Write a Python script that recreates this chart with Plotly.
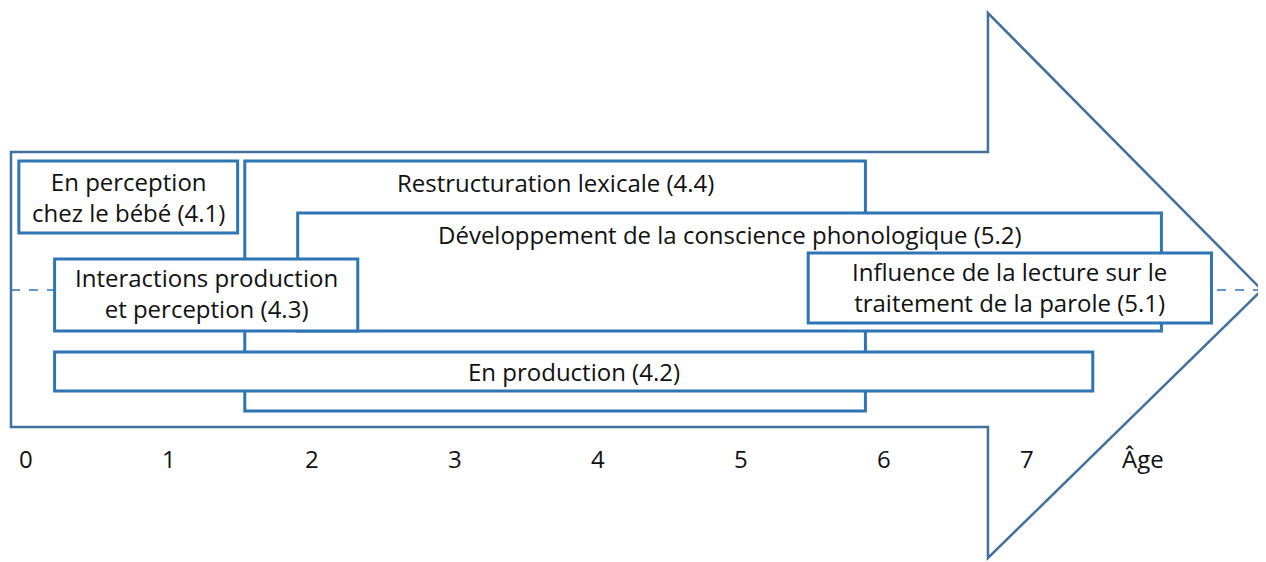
import plotly.graph_objects as go

# ---- data (ages in years) ----
labels = [
    "Restructuration lexicale (4.4)",
    "Développement de la conscience phonologique (5.2)",
    "En perception<br>chez le bébé (4.1)",
    "Interactions production<br>et perception (4.3)",
    "Influence de la lecture sur le<br>traitement de la parole (5.1)",
    "En production (4.2)",
]
age_start = [1.53, 1.90, -0.05, 0.20, 5.47, 0.20]
age_end = [5.87, 7.94, 1.48, 2.32, 8.29, 7.46]

tick_vals = [0, 1, 2, 3, 4, 5, 6, 7, 7.81]
tick_text = ["0", "1", "2", "3", "4", "5", "6", "7", "Âge"]

# ---- layout (vertical rows in pixel-like units, top = 0) ----
box_top = [161, 213, 161, 259, 253, 352]
box_bot = [411, 331, 233, 331, 323, 391]
text_y = [182, 234, 197, 293, 287, 371]

arrow_left, arrow_neck, arrow_tip = -0.105, 6.727, 8.643
body_top, body_bot, head_top, head_bot, mid_y = 152, 427, 13, 558, 290

BOX_COLOR = "#2E75B6"
ARROW_COLOR = "#41719C"
FONT = "Open Sans"
PAGE_OFFSET = 8  # default page margin of the html body

fig = go.Figure()
shapes = []

shapes.append(dict(type="line", xref="x", yref="y",
                   x0=arrow_left, x1=arrow_tip, y0=mid_y, y1=mid_y,
                   line=dict(color=BOX_COLOR, width=1.5, dash="dash")))

path = (f"M {arrow_left},{body_top} L {arrow_neck},{body_top} L {arrow_neck},{head_top} "
        f"L {arrow_tip},{mid_y} L {arrow_neck},{head_bot} L {arrow_neck},{body_bot} "
        f"L {arrow_left},{body_bot} Z")
shapes.append(dict(type="path", xref="x", yref="y", path=path,
                   line=dict(color=ARROW_COLOR, width=2.5), fillcolor="rgba(0,0,0,0)"))

annotations = []
for lab, xs, xe, yt, yb, ty in zip(labels, age_start, age_end, box_top, box_bot, text_y):
    shapes.append(dict(type="rect", xref="x", yref="y", x0=xs, x1=xe, y0=yt, y1=yb,
                       line=dict(color=BOX_COLOR, width=3), fillcolor="white"))
    annotations.append(dict(x=(xs + xe) / 2, y=ty, xref="x", yref="y", text=lab,
                            showarrow=False, xanchor="center", yanchor="middle",
                            font=dict(family=FONT, size=24, color="#111111")))

for tv, tt in zip(tick_vals, tick_text):
    annotations.append(dict(x=tv, y=458, xref="x", yref="y", text=tt, showarrow=False,
                            xanchor="center", yanchor="middle",
                            font=dict(family=FONT, size=24, color="#111111")))

# invisible trace to establish axes
fig.add_trace(go.Scatter(x=[arrow_left, arrow_tip], y=[0, 562], mode="markers",
                         marker=dict(opacity=0), hoverinfo="skip", showlegend=False))

W, H = 1266, 562
px_per_year = 143
x_origin = 26 - PAGE_OFFSET
fig.update_layout(
    width=W, height=H,
    margin=dict(l=0, r=0, t=0, b=0),
    paper_bgcolor="white", plot_bgcolor="white",
    shapes=shapes, annotations=annotations,
    xaxis=dict(range=[-x_origin / px_per_year, (W - x_origin) / px_per_year],
               visible=False, fixedrange=True),
    yaxis=dict(range=[H + PAGE_OFFSET, PAGE_OFFSET], visible=False, fixedrange=True),
    showlegend=False,
)

fig.write_html("out.html")
